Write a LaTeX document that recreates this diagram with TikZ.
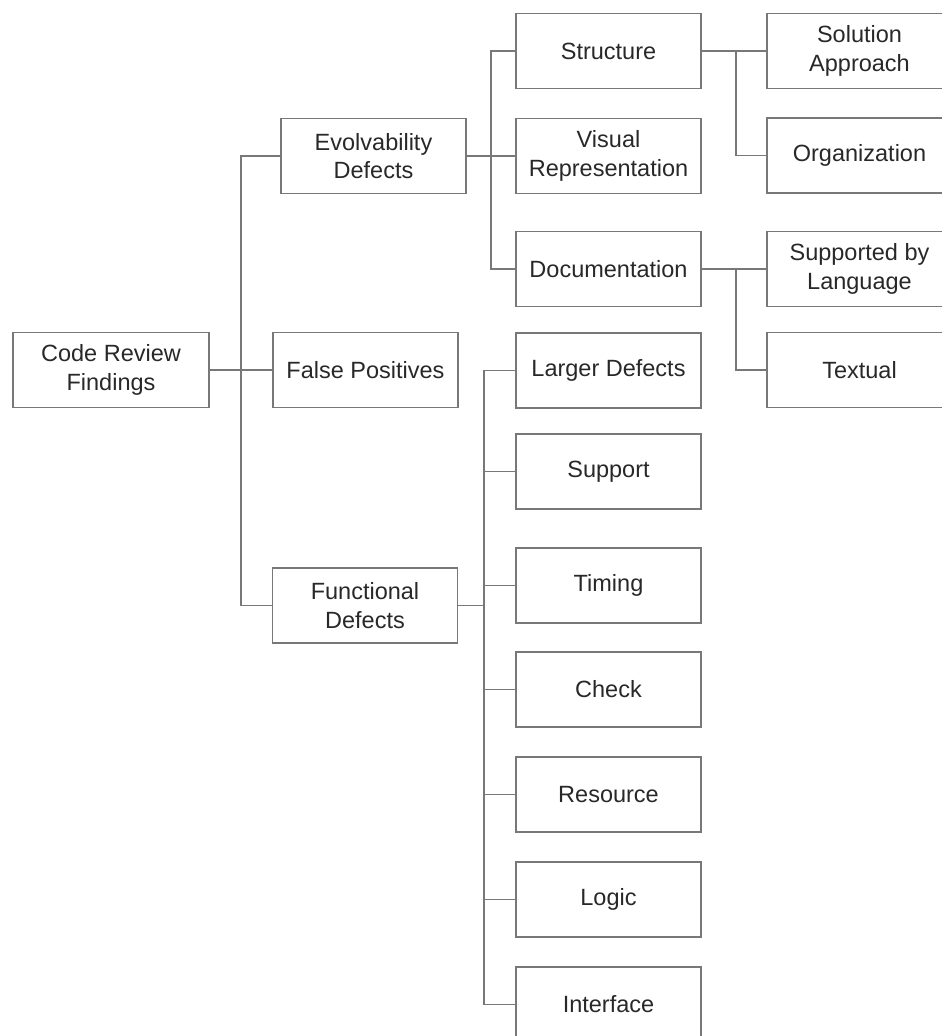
\documentclass[tikz,border=0pt]{standalone}
\usepackage{fontspec}
\setmainfont{Liberation Sans}
\usetikzlibrary{calc, positioning}

\definecolor{linegray}{RGB}{120,120,120}
\definecolor{textgray}{RGB}{40,40,40}

\tikzset{
  cat/.style={draw=linegray, line width=1.3pt, minimum width=185pt, minimum height=75pt,
    inner sep=0pt, align=center, text=textgray,
    font=\fontsize{23.5}{28.5}\selectfont},
  link/.style={draw=linegray, line width=1.3pt}
}

\begin{document}
\begin{tikzpicture}[x=1pt, y=-1pt]
\useasboundingbox (0,0) rectangle (942,1036);
\clip (0,0) rectangle (942,1036);

\node[cat, minimum width=196pt] (crf) at (111,370) {Code Review\\Findings};

\node[cat] (evo) at (373.5,156) {Evolvability\\Defects};
\node[cat] (fp)  at (365.5,370) {False Positives};
\node[cat] (fun) at (365,605.5) {Functional\\Defects};

\node[cat] (str) at (608.5,51) {Structure};
\node[cat] (vis) at (608.5,156) {Visual\\Representation};
\node[cat] (doc) at (608.5,269) {Documentation};
\node[cat] (lrg) at (608.5,370.5) {Larger Defects};
\node[cat] (sup) at (608.5,471.5) {Support};
\node[cat] (tim) at (608.5,585.5) {Timing};
\node[cat] (chk) at (608.5,689.5) {Check};
\node[cat] (res) at (608.5,794.5) {Resource};
\node[cat] (log) at (608.5,899.5) {Logic};
\node[cat] (int) at (608.5,1004.5) {Interface};

\node[cat] (sol) at (859.5,51) {Solution\\Approach};
\node[cat] (org) at (859.5,155.5) {Organization};
\node[cat] (lang) at (859.5,269) {Supported by\\Language};
\node[cat] (txt) at (859.5,370) {Textual};

% trunks
\coordinate (t1) at (241,370);
\coordinate (t2) at (491,156);
\coordinate (t3) at (484,606);
\coordinate (t4) at (736,51);
\coordinate (t5) at (736,269);

\draw[link] (crf.east) -- (fp.west);
\draw[link] (evo.west) -- (evo.west -| t1) -- (fun.west -| t1) -- (fun.west);

\draw[link] (evo.east) -- (vis.west);
\draw[link] (str.west) -- (str.west -| t2) -- (doc.west -| t2) -- (doc.west);

\draw[link] (fun.east) -- (fun.east -| t3);
\draw[link] (lrg.west) -- (lrg.west -| t3) -- (int.west -| t3) -- (int.west);
\foreach \n in {sup, tim, chk, res, log}
  \draw[link] (\n.west -| t3) -- (\n.west);

\draw[link] (str.east) -- (sol.west);
\draw[link] (sol.west -| t4) -- (org.west -| t4) -- (org.west);
\draw[link] (doc.east) -- (lang.west);
\draw[link] (lang.west -| t5) -- (txt.west -| t5) -- (txt.west);
\end{tikzpicture}
\end{document}
